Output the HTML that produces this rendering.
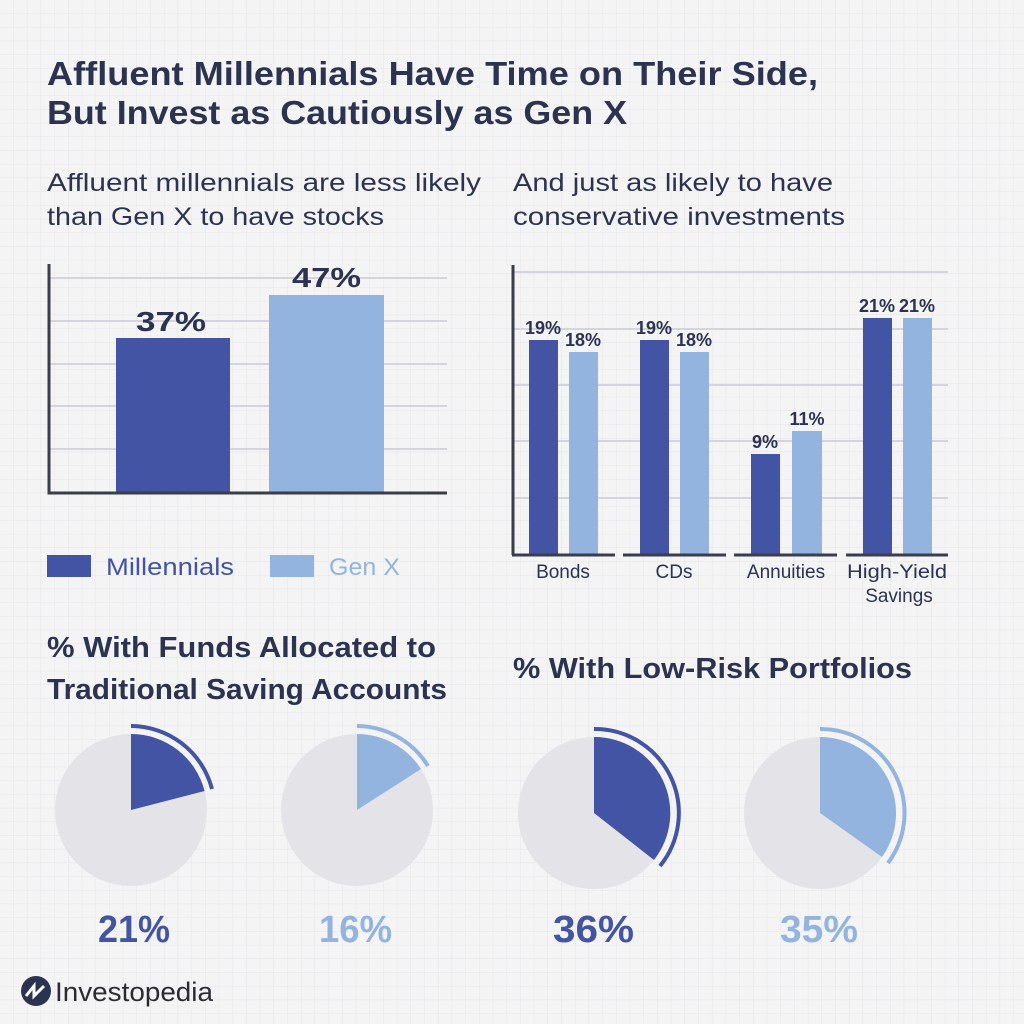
<!DOCTYPE html>
<html><head><style>
body{margin:0;width:1024px;height:1024px;overflow:hidden;background:#f4f4f5;}
svg{display:block;font-family:"Liberation Sans",sans-serif;}
</style></head><body>
<svg width="1024" height="1024" viewBox="0 0 1024 1024" xmlns="http://www.w3.org/2000/svg">
<defs>
<pattern id="g" width="13.7" height="13.7" patternUnits="userSpaceOnUse">
<path d="M13.7 0V13.7H0" fill="none" stroke="#e6e6eb" stroke-width="1"/>
</pattern>
</defs>
<rect width="1024" height="1024" fill="#f4f4f5"/>
<rect width="1024" height="1024" fill="url(#g)"/>
<g fill="#2b3350" lengthAdjust="spacingAndGlyphs">
<text x="47" y="85" font-size="33" font-weight="600" textLength="771" lengthAdjust="spacingAndGlyphs">Affluent Millennials Have Time on Their Side,</text>
<text x="47" y="124" font-size="33" font-weight="600" textLength="580" lengthAdjust="spacingAndGlyphs">But Invest as Cautiously as Gen X</text>
<text x="47" y="191" font-size="25" textLength="434" lengthAdjust="spacingAndGlyphs">Affluent millennials are less likely</text>
<text x="47" y="225" font-size="25" textLength="337" lengthAdjust="spacingAndGlyphs">than Gen X to have stocks</text>
<text x="513" y="191" font-size="25" textLength="320" lengthAdjust="spacingAndGlyphs">And just as likely to have</text>
<text x="513" y="225" font-size="25" textLength="332" lengthAdjust="spacingAndGlyphs">conservative investments</text>
</g>
<!-- left chart -->
<g stroke="#d4d4de" stroke-width="2">
<line x1="49" y1="278" x2="447" y2="278"/><line x1="49" y1="321" x2="447" y2="321"/>
<line x1="49" y1="364" x2="447" y2="364"/><line x1="49" y1="406" x2="447" y2="406"/>
<line x1="49" y1="449" x2="447" y2="449"/>
</g>
<rect x="116" y="338" width="114" height="155" fill="#4254a3"/>
<rect x="269" y="295" width="115" height="198" fill="#94b4e0"/>
<path d="M49 264V493H447" fill="none" stroke="#3a3d4a" stroke-width="3"/>
<g fill="#2b3350" font-size="28" font-weight="700">
<text x="136" y="331" textLength="70" lengthAdjust="spacingAndGlyphs">37%</text><text x="292" y="287" textLength="69" lengthAdjust="spacingAndGlyphs">47%</text>
</g>
<rect x="47" y="555" width="44" height="22" fill="#4254a3"/>
<text x="106" y="575" font-size="24" fill="#4254a3" textLength="128" lengthAdjust="spacingAndGlyphs">Millennials</text>
<rect x="270" y="555" width="44" height="22" fill="#94b4e0"/>
<text x="329" y="575" font-size="24" fill="#94b4e0" textLength="71" lengthAdjust="spacingAndGlyphs">Gen X</text>
<!-- right chart -->
<g stroke="#d4d4de" stroke-width="2">
<line x1="513" y1="272" x2="948" y2="272"/><line x1="513" y1="329" x2="948" y2="329"/>
<line x1="513" y1="385" x2="948" y2="385"/><line x1="513" y1="441" x2="948" y2="441"/>
<line x1="513" y1="498" x2="948" y2="498"/>
</g>
<g fill="#4254a3">
<rect x="529" y="340" width="29" height="215"/><rect x="640" y="340" width="29" height="215"/>
<rect x="751" y="454" width="29" height="101"/><rect x="863" y="318" width="29" height="237"/>
</g>
<g fill="#94b4e0">
<rect x="569" y="352" width="29" height="203"/><rect x="680" y="352" width="29" height="203"/>
<rect x="792" y="431" width="30" height="124"/><rect x="903" y="318" width="29" height="237"/>
</g>
<path d="M513 265V555" stroke="#3a3d4a" stroke-width="3"/>
<g stroke="#3a3d4a" stroke-width="3">
<line x1="512" y1="555" x2="615" y2="555"/><line x1="623" y1="555" x2="726" y2="555"/>
<line x1="734" y1="555" x2="837" y2="555"/><line x1="846" y1="555" x2="948" y2="555"/>
</g>
<g fill="#2b3350" font-size="18" font-weight="700" text-anchor="middle">
<text x="543" y="334">19%</text><text x="583" y="346">18%</text>
<text x="654" y="334">19%</text><text x="694" y="346">18%</text>
<text x="765" y="448">9%</text><text x="807" y="425">11%</text>
<text x="877" y="312">21%</text><text x="917" y="312">21%</text>
</g>
<g fill="#2b3350" font-size="19" text-anchor="middle">
<text x="563" y="578">Bonds</text><text x="674" y="578">CDs</text>
<text x="786" y="578">Annuities</text><text x="897" y="578" textLength="100" lengthAdjust="spacingAndGlyphs">High-Yield</text>
<text x="899" y="602">Savings</text>
</g>
<!-- pie titles -->
<g fill="#2b3350" font-size="29" font-weight="600">
<text x="47" y="657" textLength="389" lengthAdjust="spacingAndGlyphs">% With Funds Allocated to</text>
<text x="47" y="699" textLength="400" lengthAdjust="spacingAndGlyphs">Traditional Saving Accounts</text>
<text x="513" y="678" textLength="399" lengthAdjust="spacingAndGlyphs">% With Low-Risk Portfolios</text>
</g>
<g font-size="38" font-weight="700">
<text x="98" y="942" fill="#4254a3" textLength="72" lengthAdjust="spacingAndGlyphs">21%</text>
<text x="319" y="942" fill="#94b4e0" textLength="73" lengthAdjust="spacingAndGlyphs">16%</text>
<text x="553" y="942" fill="#4254a3" textLength="81" lengthAdjust="spacingAndGlyphs">36%</text>
<text x="780" y="942" fill="#94b4e0" textLength="78" lengthAdjust="spacingAndGlyphs">35%</text>
</g>
<g>
<circle cx="131" cy="810" r="76" fill="#e3e3e8"/>
<path d="M131 810V734A76 76 0 0 1 204.6 791Z" fill="#4254a3"/>
<path d="M131 726A84 84 0 0 1 212 789" fill="none" stroke="#4254a3" stroke-width="4"/>
<circle cx="357" cy="810" r="76" fill="#e3e3e8"/>
<path d="M357 810V734A76 76 0 0 1 421 769Z" fill="#94b4e0"/>
<path d="M357 726A84 84 0 0 1 428 766" fill="none" stroke="#94b4e0" stroke-width="4"/>
<circle cx="594" cy="813" r="76" fill="#e3e3e8"/>
<path d="M594 813V737A76 76 0 0 1 654 860Z" fill="#4254a3"/>
<path d="M594 729A84 84 0 0 1 660 866" fill="none" stroke="#4254a3" stroke-width="4"/>
<circle cx="820" cy="813" r="76" fill="#e3e3e8"/>
<path d="M820 813V737A76 76 0 0 1 882 857Z" fill="#94b4e0"/>
<path d="M820 729A84 84 0 0 1 888 863" fill="none" stroke="#94b4e0" stroke-width="4"/>
</g>
<!-- logo -->
<circle cx="36" cy="991" r="15" fill="#2b3350"/>
<path d="M26 996L34 986V996L44 986" fill="none" stroke="#fff" stroke-width="3"/>
<text x="55" y="1001" font-size="27" fill="#2b2b33" textLength="158" lengthAdjust="spacingAndGlyphs">Investopedia</text>
</svg>
</body></html>
